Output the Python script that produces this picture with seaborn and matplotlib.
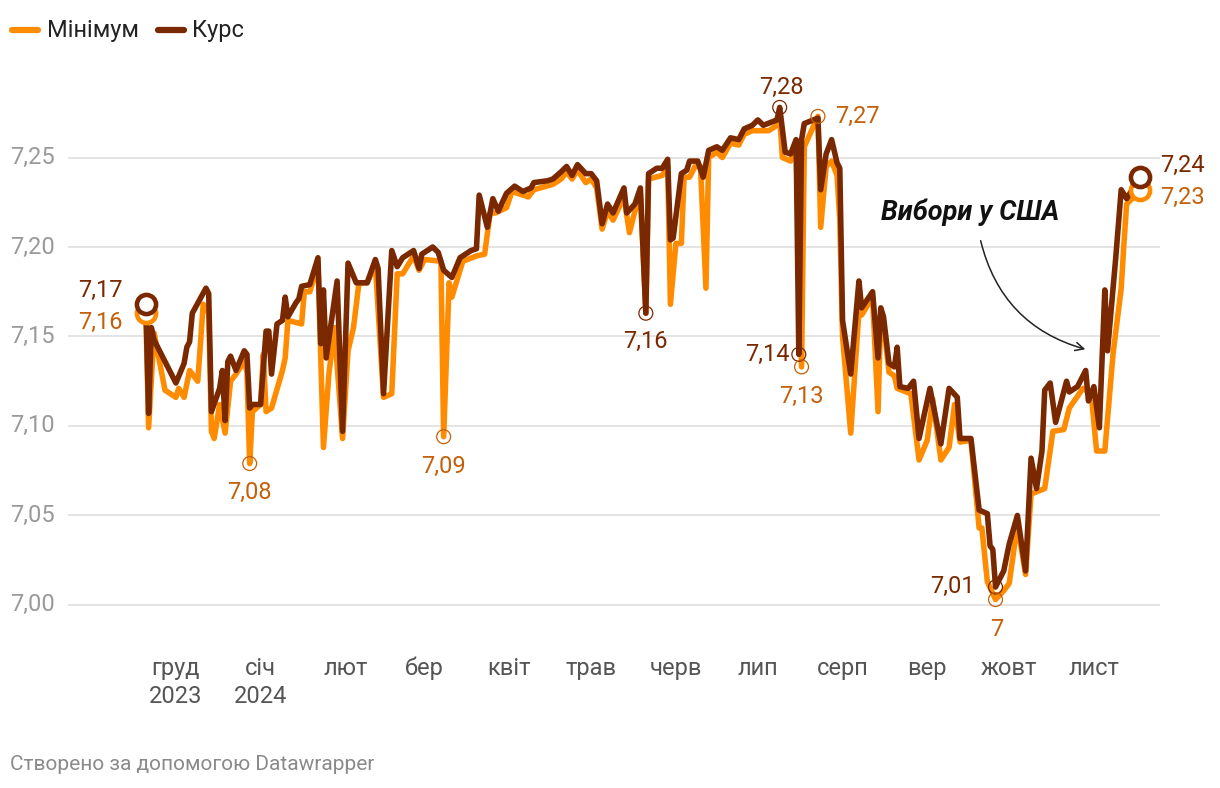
import pandas as pd
import numpy as np
import matplotlib
matplotlib.use("Agg")
import matplotlib.pyplot as plt
from matplotlib.lines import Line2D
import seaborn as sns

# Курс юаня: day offsets from 2023-11-20 and values
START = pd.Timestamp("2023-11-20")

kurs_days = [0, 1, 2, 3, 8, 11, 14, 15, 16, 17, 22, 23, 24, 27, 28, 29, 30, 31, 33, 36,
             37, 38, 39, 42, 44, 45, 46, 48, 50, 51, 52, 55, 56, 57, 60, 63, 64, 65, 66, 70,
             72, 74, 77, 81, 84, 85, 87, 90, 92, 94, 98, 100, 101, 105, 107, 109, 112, 115, 119, 121,
             122, 125, 127, 129, 132, 135, 138, 141, 142, 147, 149, 152, 154, 156, 158, 161, 163, 165, 167, 169,
             171, 175, 176, 179, 181, 183, 184, 187, 189, 191, 192, 193, 196, 198, 199, 202, 204, 206, 209, 211,
             214, 217, 219, 222, 224, 226, 231, 232, 234, 236, 238, 239, 240, 241, 246, 247, 249, 251, 253, 254,
             255, 258, 261, 262, 266, 268, 269, 270, 272, 274, 275, 276, 279, 281, 283, 287, 291, 294, 297, 298,
             302, 305, 308, 309, 310, 311, 314, 316, 319, 322, 324, 326, 328, 329, 331, 333, 337, 338, 341, 344,
             345, 347, 349, 351, 352, 355, 357, 359, 361, 364]
kurs_vals = [7.168, 7.107, 7.155, 7.148, 7.133, 7.124, 7.135, 7.144, 7.147, 7.163, 7.177, 7.174, 7.108, 7.121, 7.131, 7.103, 7.136, 7.139, 7.131, 7.142,
             7.140, 7.110, 7.112, 7.112, 7.153, 7.153, 7.129, 7.157, 7.159, 7.172, 7.161, 7.169, 7.171, 7.178, 7.179, 7.194, 7.146, 7.176, 7.138, 7.181,
             7.097, 7.191, 7.180, 7.180, 7.193, 7.188, 7.118, 7.198, 7.189, 7.194, 7.198, 7.188, 7.196, 7.200, 7.197, 7.187, 7.183, 7.194, 7.198, 7.199,
             7.229, 7.211, 7.227, 7.220, 7.230, 7.234, 7.231, 7.233, 7.236, 7.237, 7.238, 7.242, 7.245, 7.240, 7.246, 7.241, 7.241, 7.237, 7.213, 7.224,
             7.219, 7.233, 7.219, 7.224, 7.233, 7.163, 7.241, 7.244, 7.244, 7.249, 7.204, 7.205, 7.241, 7.243, 7.248, 7.248, 7.239, 7.254, 7.256, 7.254,
             7.261, 7.260, 7.266, 7.268, 7.271, 7.268, 7.271, 7.278, 7.253, 7.252, 7.260, 7.140, 7.260, 7.269, 7.272, 7.232, 7.252, 7.260, 7.247, 7.244,
             7.159, 7.129, 7.181, 7.166, 7.175, 7.138, 7.166, 7.161, 7.135, 7.133, 7.144, 7.122, 7.121, 7.125, 7.093, 7.121, 7.090, 7.121, 7.116, 7.093,
             7.093, 7.053, 7.051, 7.033, 7.031, 7.010, 7.019, 7.034, 7.050, 7.019, 7.082, 7.065, 7.086, 7.120, 7.124, 7.102, 7.125, 7.119, 7.122, 7.131,
             7.114, 7.122, 7.099, 7.176, 7.142, 7.194, 7.232, 7.227, 7.232, 7.239]

min_days = [0, 1, 3, 7, 11, 12, 14, 16, 19, 21, 23, 24, 25, 27, 29, 31, 33, 36, 37, 38,
            39, 42, 43, 44, 46, 50, 51, 52, 57, 58, 60, 63, 65, 67, 69, 72, 74, 76, 78, 81,
            84, 87, 90, 92, 94, 98, 100, 102, 108, 109, 111, 112, 116, 121, 124, 126, 128, 132, 134, 138,
            140, 142, 149, 152, 154, 156, 158, 161, 163, 165, 167, 169, 171, 175, 177, 179, 181, 183, 184, 189,
            191, 192, 194, 196, 197, 199, 201, 203, 205, 206, 209, 211, 214, 217, 219, 222, 226, 228, 231, 232,
            233, 236, 238, 240, 241, 246, 247, 249, 251, 253, 254, 255, 258, 261, 262, 266, 268, 269, 270, 272,
            274, 275, 280, 283, 286, 288, 291, 294, 296, 298, 302, 305, 306, 308, 311, 314, 316, 319, 322, 324,
            329, 332, 336, 338, 343, 346, 348, 351, 354, 357, 358, 359, 363, 364]
min_vals = [7.163, 7.099, 7.152, 7.120, 7.116, 7.121, 7.116, 7.131, 7.125, 7.168, 7.163, 7.097, 7.093, 7.112, 7.096, 7.125, 7.129, 7.136, 7.130, 7.079,
            7.108, 7.112, 7.140, 7.108, 7.110, 7.131, 7.138, 7.159, 7.157, 7.175, 7.175, 7.190, 7.088, 7.129, 7.155, 7.093, 7.142, 7.155, 7.180, 7.180,
            7.190, 7.116, 7.118, 7.185, 7.185, 7.195, 7.187, 7.193, 7.192, 7.094, 7.180, 7.172, 7.192, 7.195, 7.196, 7.219, 7.219, 7.222, 7.231, 7.229,
            7.228, 7.232, 7.235, 7.238, 7.242, 7.238, 7.243, 7.236, 7.238, 7.233, 7.210, 7.220, 7.215, 7.228, 7.208, 7.220, 7.230, 7.163, 7.238, 7.240,
            7.245, 7.168, 7.202, 7.202, 7.239, 7.239, 7.245, 7.245, 7.177, 7.250, 7.253, 7.250, 7.258, 7.257, 7.263, 7.265, 7.265, 7.265, 7.268, 7.273,
            7.250, 7.248, 7.256, 7.133, 7.256, 7.273, 7.211, 7.245, 7.248, 7.240, 7.215, 7.150, 7.096, 7.164, 7.162, 7.172, 7.108, 7.163, 7.158, 7.130,
            7.128, 7.121, 7.118, 7.081, 7.092, 7.115, 7.081, 7.088, 7.112, 7.091, 7.092, 7.043, 7.043, 7.013, 7.003, 7.008, 7.012, 7.045, 7.017, 7.062,
            7.065, 7.097, 7.098, 7.110, 7.121, 7.118, 7.086, 7.086, 7.140, 7.177, 7.202, 7.224, 7.230, 7.232]

month_labels = ["груд\n2023", "січ\n2024", "лют", "бер", "квіт", "трав",
                "черв", "лип", "серп", "вер", "жовт", "лист"]
y_ticks = [7.00, 7.05, 7.10, 7.15, 7.20, 7.25]

# annotated min/max points: (day, value)
kurs_marks = [(183, 7.163), (232, 7.278), (239, 7.140), (311, 7.010)]
min_marks = [(38, 7.079), (109, 7.094), (240, 7.133), (246, 7.273), (311, 7.003)]

ORANGE = "#ff8c00"
ORANGE_TXT = "#c4600a"
BROWN = "#7a2800"
GRID = "#e2e2e2"
FS = 17

sns.set_style("white")
plt.rcParams["font.family"] = ["Roboto", "DejaVu Sans"]

df = pd.concat([
    pd.DataFrame({"date": START + pd.to_timedelta(min_days, unit="D"), "value": min_vals, "series": "Мінімум"}),
    pd.DataFrame({"date": START + pd.to_timedelta(kurs_days, unit="D"), "value": kurs_vals, "series": "Курс"}),
])

fig = plt.figure(figsize=(12.2, 7.88), dpi=100)
W, H = 1220, 788
ax = fig.add_axes([68 / W, (H - 640) / H, 1092 / W, 570 / H])

for v in y_ticks:
    ax.axhline(v, color=GRID, lw=1.3, zorder=0)

sns.lineplot(data=df, x="date", y="value", hue="series", hue_order=["Мінімум", "Курс"],
             palette={"Мінімум": ORANGE, "Курс": BROWN}, estimator=None, sort=False,
             lw=4.0, legend=False, ax=ax)

ax.set_ylim(6.9804, 7.2989)
ax.set_xlim(START - pd.Timedelta(days=28.5), START + pd.Timedelta(days=371.2))
for s in ax.spines.values():
    s.set_visible(False)
ax.set_xlabel("")
ax.set_ylabel("")
ax.set_yticks([])

ticks = pd.date_range("2023-12-01", "2024-11-01", freq="MS")
ax.set_xticks(ticks)
ax.set_xticklabels(month_labels, fontsize=FS, color="#555555", linespacing=1.3)
ax.tick_params(axis="x", length=0, pad=12)

for v in y_ticks:
    ax.text(-0.053, v, f"{v:.2f}".replace(".", ","), transform=ax.get_yaxis_transform(),
            ha="left", va="center", fontsize=FS, color="#9a9a9a")

# start / end markers
for d, v, col in [(0, 7.163, ORANGE), (364, 7.232, ORANGE), (0, 7.168, BROWN), (364, 7.239, BROWN)]:
    ax.scatter(START + pd.Timedelta(days=d), v, s=190, facecolor="white", edgecolor=col,
               linewidth=3.3, zorder=5)

# small hollow circles
for d, v in kurs_marks:
    ax.scatter(START + pd.Timedelta(days=d), v, s=100, facecolor="none", edgecolor=BROWN, lw=0.9, zorder=6)
for d, v in min_marks:
    ax.scatter(START + pd.Timedelta(days=d), v, s=100, facecolor="none", edgecolor=ORANGE_TXT, lw=0.9, zorder=6)


def lab(x_px, y_px, text, color, ha="center"):
    fig.text(x_px / W, 1 - y_px / H, text, ha=ha, va="center", fontsize=FS, color=color)


lab(123, 290, "7,17", BROWN, "right")
lab(123, 322, "7,16", ORANGE_TXT, "right")
lab(249, 492, "7,08", ORANGE_TXT)
lab(443, 466, "7,09", ORANGE_TXT)
lab(645, 341, "7,16", BROWN)
lab(781, 87, "7,28", BROWN)
lab(835, 116, "7,27", ORANGE_TXT, "left")
lab(790, 354, "7,14", BROWN, "right")
lab(801, 396, "7,13", ORANGE_TXT)
lab(975, 586, "7,01", BROWN, "right")
lab(997, 630, "7", ORANGE_TXT)
lab(1160, 165, "7,24", BROWN, "left")
lab(1160, 197, "7,23", ORANGE_TXT, "left")

# election annotation
ax.annotate("", xy=(1088 / W, 1 - 350 / H), xycoords="figure fraction",
            xytext=(980 / W, 1 - 238 / H), textcoords="figure fraction",
            arrowprops=dict(arrowstyle="->", color="#222222", lw=1.1,
                            connectionstyle="arc3,rad=0.3", mutation_scale=15))
fig.text(970 / W, 1 - 212 / H, "Вибори у США", ha="center", va="center", fontsize=19.5,
         fontweight="bold", fontstyle="italic", color="#111111")

# legend
fig.add_artist(Line2D([12 / W, 38 / W], [1 - 30 / H] * 2, color=ORANGE, lw=4.5, solid_capstyle="round"))
fig.text(47 / W, 1 - 30 / H, "Мінімум", ha="left", va="center", fontsize=FS, color="#222222")
fig.add_artist(Line2D([158 / W, 184 / W], [1 - 30 / H] * 2, color=BROWN, lw=4.5, solid_capstyle="round"))
fig.text(192 / W, 1 - 30 / H, "Курс", ha="left", va="center", fontsize=FS, color="#222222")

fig.text(10 / W, 1 - 765 / H, "Створено за допомогою Datawrapper", ha="left", va="center",
         fontsize=15, color="#8a8a8a")

fig.savefig("out.png", dpi=100)
